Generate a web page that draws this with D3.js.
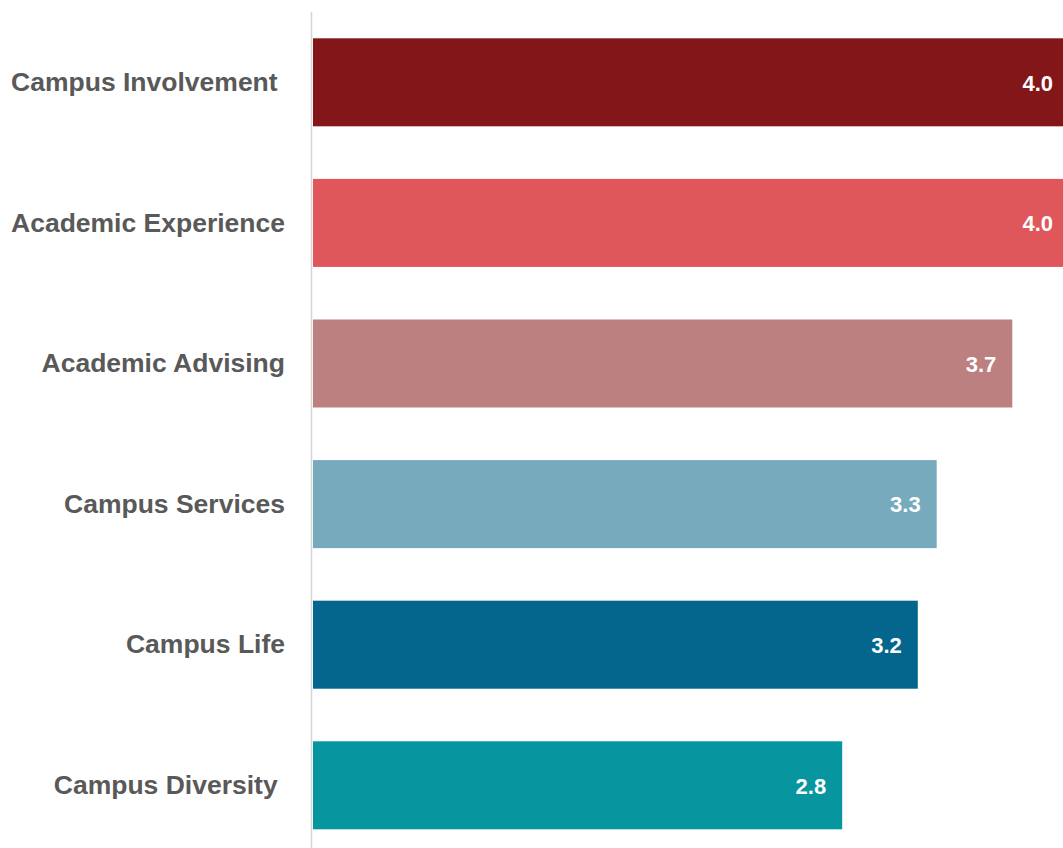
<!DOCTYPE html>
<html>
<head>
<meta charset="utf-8">
<script src="https://cdn.jsdelivr.net/npm/d3@7"></script>
<style>
  html, body { margin: 0; padding: 0; background: #ffffff; overflow: hidden; }
  svg { display: block; }
  .cat { white-space: pre; }
</style>
</head>
<body>
<script>
// Average ratings by survey area
const categories = [
  "Campus Involvement ",
  "Academic Experience",
  "Academic Advising",
  "Campus Services",
  "Campus Life",
  "Campus Diversity "
];
const values = [4.0, 4.0, 3.7, 3.3, 3.2, 2.8];
const colors = ["#831619", "#E0575B", "#BD8080", "#78AABE", "#04668C", "#07959F"];

const width = 1063, height = 848;

const svg = d3.select("body").append("svg")
  .attr("width", width)
  .attr("height", height);

const x = d3.scaleLinear().domain([0, 4]).range([313, 313 + 4 * 189]);
const y = d3.scaleBand()
  .domain(categories)
  .range([12, 12 + 6 * 140.6])
  .paddingInner(0.374)
  .paddingOuter(0.187);

// vertical baseline
svg.append("line")
  .attr("x1", 311.5).attr("x2", 311.5)
  .attr("y1", y.range()[0]).attr("y2", y.range()[1])
  .attr("stroke", "#d4d4d4")
  .attr("stroke-width", 1.5);

const rows = svg.selectAll("g.row")
  .data(categories.map((c, i) => ({ c, v: values[i], col: colors[i] })))
  .join("g")
  .attr("class", "row");

rows.append("rect")
  .attr("x", x(0))
  .attr("y", d => y(d.c))
  .attr("width", d => x(d.v) - x(0))
  .attr("height", y.bandwidth())
  .attr("fill", d => d.col);

rows.append("text")
  .attr("class", "cat")
  .attr("x", 285)
  .attr("y", d => y(d.c) + y.bandwidth() / 2)
  .attr("dy", "0.33em")
  .attr("text-anchor", "end")
  .attr("font-family", "Liberation Sans, Arial, sans-serif")
  .attr("font-weight", "bold")
  .attr("font-size", 26.5)
  .attr("fill", "#595959")
  .text(d => d.c);

rows.append("text")
  .attr("x", d => x(d.v) - 16)
  .attr("y", d => y(d.c) + y.bandwidth() / 2)
  .attr("dy", "0.38em")
  .attr("text-anchor", "end")
  .attr("font-family", "Liberation Sans, Arial, sans-serif")
  .attr("font-weight", "bold")
  .attr("font-size", 22)
  .attr("fill", "#ffffff")
  .text(d => d3.format(".1f")(d.v));
</script>
</body>
</html>
